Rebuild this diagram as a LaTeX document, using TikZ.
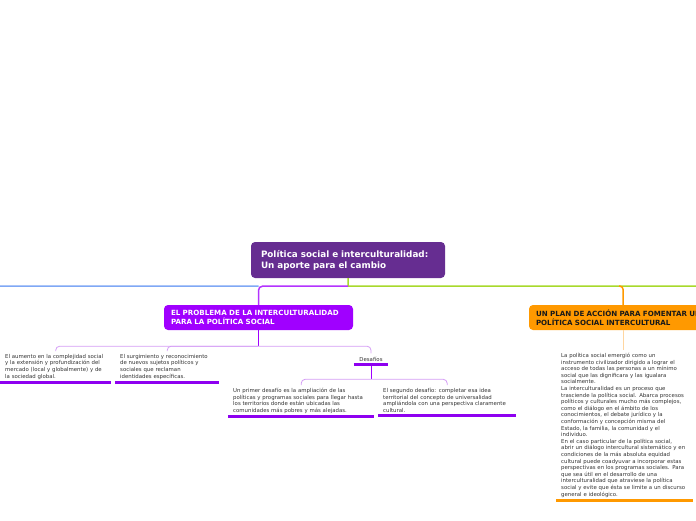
\documentclass[tikz,border=0pt]{standalone}
\usepackage{fontspec}
\setmainfont{DejaVu Sans}
\usetikzlibrary{positioning,calc}
\definecolor{cRoot}{HTML}{662D91}
\definecolor{cProb}{HTML}{A000FF}
\definecolor{cPlan}{HTML}{FF9900}
\definecolor{cBlue}{HTML}{7FA8F5}
\definecolor{cGreen}{HTML}{A8D92B}
\definecolor{cLilac}{HTML}{D49CF5}
\definecolor{cPeach}{HTML}{FFD6A0}
\definecolor{cText}{HTML}{333333}
\definecolor{cUline}{HTML}{8E00F0}
\tikzset{ROOT/.style={rectangle,rounded corners=4pt,fill=cRoot,text=white,font=\bfseries\fontsize{8.8}{11}\selectfont,align=left,text width=174pt,inner xsep=10pt,minimum height=36pt}}
\tikzset{TOPIC/.style={rectangle,rounded corners=4pt,font=\bfseries\fontsize{7.1}{9}\selectfont,align=left,inner xsep=7pt,minimum height=25pt}}
\tikzset{LEAF/.style={anchor=north west,align=left,text=cText,font=\fontsize{5.4}{6.6}\selectfont,inner xsep=5pt,inner ysep=3pt}}
\tikzset{MAINLINE/.style={line width=1.5pt}}
\tikzset{SUBLINE/.style={line width=0.8pt,rounded corners=4pt}}
\tikzset{ULINE/.style={line width=2.5pt}}

\begin{document}
\begin{tikzpicture}[x=1pt,y=-1pt]
\useasboundingbox (0,0) rectangle (696,520);
\clip (0,0) rectangle (696,520);

\node[ROOT] (n_root) at (348,260) {Política social e interculturalidad:\\Un aporte para el cambio};
\node[TOPIC,fill=cProb,text=white,text width=175pt] (n_prob) at (258.5,317.5) {EL PROBLEMA DE LA INTERCULTURALIDAD\\PARA LA POLÍTICA SOCIAL};
\node[TOPIC,fill=cPlan,text=black!90,text width=174pt] (n_plan) at (623,317.5) {UN PLAN DE ACCIÓN PARA FOMENTAR UNA\\POLÍTICA SOCIAL INTERCULTURAL};

\node[LEAF,text width=101pt] (n_leaf1) at (0,351) {El aumento en la complejidad social\\y la extensión y profundización del\\mercado (local y globalmente) y de\\la sociedad global.};
\node[LEAF,text width=94pt] (n_leaf2) at (115,351) {El surgimiento y reconocimiento\\de nuevos sujetos políticos y\\sociales que reclaman\\identidades específicas.};
\node[LEAF,anchor=base,minimum width=34pt] (n_dsf) at (371,361) {Desafíos};
\node[LEAF,text width=136pt] (n_leaf3) at (228,385) {Un primer desafío es la ampliación de las\\políticas y programas sociales para llegar hasta\\los territorios donde están ubicadas las\\comunidades más pobres y más alejadas.};
\node[LEAF,text width=128pt] (n_leaf4) at (378,385) {El segundo desafío: completar esa idea\\territorial del concepto de universalidad\\ampliándola con una perspectiva claramente\\cultural.};
\node[LEAF,text width=127pt] (n_leaf5) at (556,350) {La política social emergió como un\\instrumento civilizador dirigido a lograr el\\acceso de todas las personas a un mínimo\\social que las dignificara y las igualara\\socialmente.\\La interculturalidad es un proceso que\\trasciende la política social. Abarca procesos\\políticos y culturales mucho más complejos,\\como el diálogo en el ámbito de los\\conocimientos, el debate jurídico y la\\conformación y concepción misma del\\Estado, la familia, la comunidad y el\\individuo.\\En el caso particular de la política social,\\abrir un diálogo intercultural sistemático y en\\condiciones de la más absoluta equidad\\cultural puede coadyuvar a incorporar estas\\perspectivas en los programas sociales. Para\\que sea útil en el desarrollo de una\\interculturalidad que atraviese la política\\social y evite que ésta se limite a un discurso\\general e ideológico.};

% main branches
\coordinate (c_left) at (0,286);
\coordinate (c_right) at (696,286);
\draw[MAINLINE,cGreen] (n_root.south) -- ++(0,8) coordinate (c_root) -- (c_right);
\draw[MAINLINE,cBlue] (c_root-|n_prob.north) -- (c_left);
\draw[MAINLINE,cProb!80,rounded corners=4pt] (c_root) -| (n_prob.north);
\draw[MAINLINE,cPlan,rounded corners=3pt] ($(c_root-|n_plan.north)+(-4,0)$) -| (n_plan.north);

% problema
\draw[line width=0.8pt,cProb] (n_prob.south) -- ++(0,16) coordinate (c_prob);
\draw[SUBLINE,cLilac] (c_prob) -| (n_leaf1.north);
\draw[SUBLINE,cLilac] (c_prob) -| (n_leaf2.north);
\draw[SUBLINE,cLilac] (c_prob) -| (n_dsf.north);
\draw[line width=0.8pt,cProb] (n_dsf.south) -- ++(0,15) coordinate (c_dsf);
\draw[SUBLINE,cLilac] (c_dsf) -| (n_leaf3.north);
\draw[SUBLINE,cLilac] (c_dsf) -| (n_leaf4.north);

% plan
\draw[line width=0.8pt,cPeach] (n_plan.south) -- (n_plan.south|-n_leaf5.north);

% underlines
\draw[ULINE,cUline] (n_leaf1.south west) -- (n_leaf1.south east);
\draw[ULINE,cUline] (n_leaf2.south west) -- (n_leaf2.south east);
\draw[ULINE,cUline] (n_dsf.south west) -- (n_dsf.south east);
\draw[ULINE,cUline] (n_leaf3.south west) -- (n_leaf3.south east);
\draw[ULINE,cUline] (n_leaf4.south west) -- (n_leaf4.south east);
\draw[ULINE,cPlan] (n_leaf5.south west) -- (n_leaf5.south east);

\end{tikzpicture}
\end{document}
